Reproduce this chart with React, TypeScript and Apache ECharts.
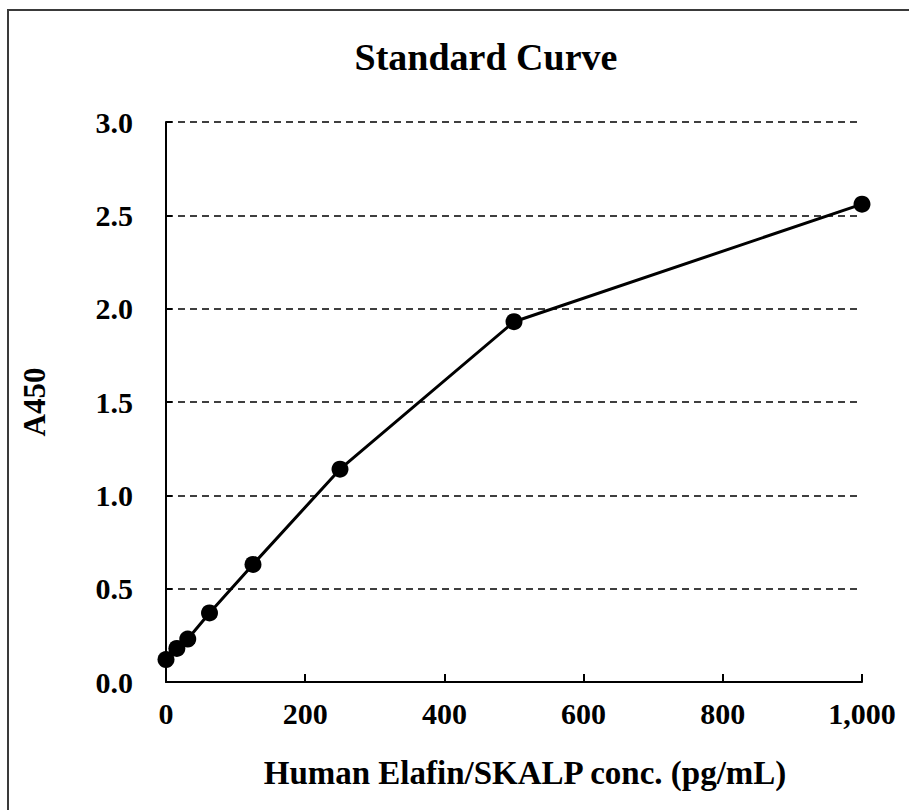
import React, { useEffect, useRef } from "react";
import * as echarts from "echarts";

const concentrations = [0, 15.6, 31.25, 62.5, 125, 250, 500, 1000];
const absorbance = [0.12, 0.18, 0.23, 0.37, 0.63, 1.14, 1.93, 2.56];
const chartTitle = "Standard Curve";
const xAxisName = "Human Elafin/SKALP conc. (pg/mL)";
const yAxisName = "A450";

const FONT = "'Liberation Serif', 'Times New Roman', serif";

export default function App() {
  const ref = useRef<HTMLDivElement>(null);
  useEffect(() => {
    document.body.style.margin = "0";
    if (!ref.current) return;
    const chart = echarts.init(ref.current, null, { renderer: "svg" });
    const points = concentrations.map((c, i) => [c, absorbance[i]]);
    chart.setOption({
      animation: false,
      backgroundColor: "#fff",
      graphic: [
        {
          type: "rect",
          shape: { x: 8, y: 10, width: 1000, height: 1000 },
          style: { fill: "none", stroke: "#3a3a3a", lineWidth: 2 },
          silent: true,
          z: 0,
        },
        {
          type: "text",
          x: 486,
          y: 57,
          style: {
            text: chartTitle,
            fill: "#000",
            font: `bold 38px ${FONT}`,
            align: "center",
            verticalAlign: "middle",
          },
          z: 10,
        },
      ],
      grid: {
        left: 166,
        right: 47,
        top: 122,
        bottom: 128,
        containLabel: false,
        outerBoundsMode: "none",
      },
      xAxis: {
        type: "value",
        min: 0,
        max: 1000,
        interval: 200,
        name: xAxisName,
        nameLocation: "middle",
        nameGap: 74,
        nameTextStyle: {
          fontFamily: FONT,
          fontWeight: "bold",
          fontSize: 33,
          color: "#000",
          padding: [0, 0, 0, 22],
        },
        axisLine: { show: true, lineStyle: { color: "#000", width: 2 } },
        axisTick: { show: true, inside: true, length: 8, lineStyle: { color: "#000", width: 2 } },
        axisLabel: {
          margin: 16,
          fontFamily: FONT,
          fontWeight: "bold",
          fontSize: 30,
          color: "#000",
          formatter: (v: number) => v.toLocaleString("en-US"),
        },
        splitLine: { show: false },
      },
      yAxis: {
        type: "value",
        min: 0,
        max: 3,
        interval: 0.5,
        name: yAxisName,
        nameLocation: "middle",
        nameGap: 116,
        nameRotate: 90,
        nameTextStyle: {
          fontFamily: FONT,
          fontWeight: "bold",
          fontSize: 31,
          color: "#000",
        },
        axisLine: { show: true, lineStyle: { color: "#000", width: 2 } },
        axisTick: { show: true, inside: true, length: 6, lineStyle: { color: "#000", width: 2 } },
        axisLabel: {
          margin: 33,
          fontFamily: FONT,
          fontWeight: "bold",
          fontSize: 30,
          color: "#000",
          formatter: (v: number) => v.toFixed(1),
        },
        splitLine: {
          show: true,
          lineStyle: { color: "#000", width: 1.6, type: [7, 5] },
        },
      },
      series: [
        {
          type: "line",
          data: points,
          symbol: "circle",
          symbolSize: 17,
          lineStyle: { color: "#000", width: 3 },
          itemStyle: { color: "#000" },
          clip: false,
        },
      ],
    });
    return () => chart.dispose();
  }, []);
  return <div ref={ref} style={{ width: 909, height: 810 }} />;
}
